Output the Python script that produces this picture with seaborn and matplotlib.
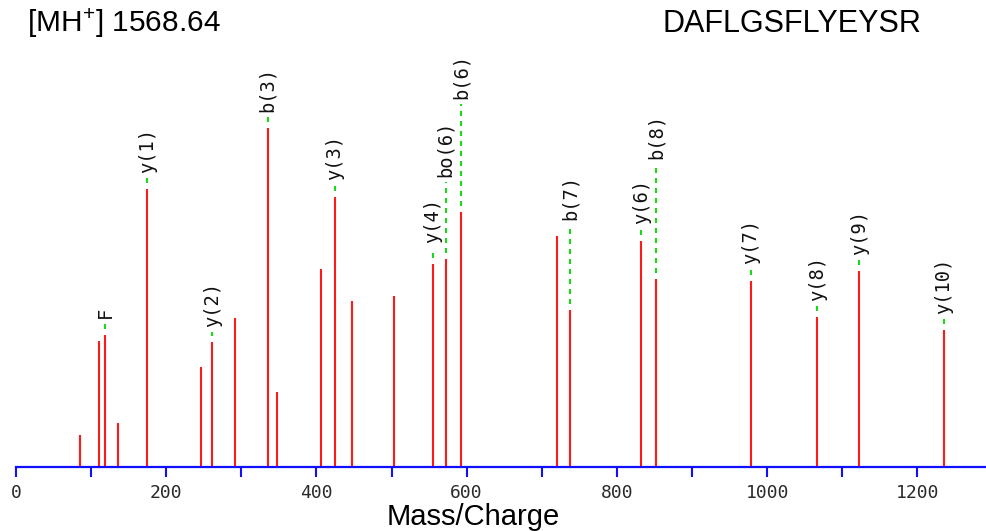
import matplotlib
matplotlib.use("Agg")
import matplotlib.pyplot as plt
import seaborn as sns
import numpy as np
import pandas as pd

# ---- data ----
mz = [85.2, 110.9, 118.5, 136.2, 174.8, 245.9, 261.4, 291.6, 335.1, 347.9,
      406.5, 424.7, 447.4, 503.3, 554.8, 572.1, 592.9, 719.9, 738.0, 832.5,
      852.5, 978.2, 1066.8, 1122.7, 1235.5]
intensity = [9.4, 37.3, 38.9, 12.9, 82.0, 29.4, 36.9, 44.1, 100.0, 22.0,
             58.3, 79.6, 49.1, 50.3, 60.0, 61.5, 75.1, 68.0, 46.4, 66.8,
             55.5, 55.0, 44.2, 57.7, 40.3]
ion_label = ["", "", "F", "", "y(1)", "", "y(2)", "", "b(3)", "",
             "", "y(3)", "", "", "y(4)", "bo(6)", "b(6)", "", "b(7)", "y(6)",
             "b(8)", "y(7)", "y(8)", "y(9)", "y(10)"]
label_level = [None, None, 43.9, None, 86.7, None, 41.4, None, 104.7, None,
               None, 84.7, None, None, 66.1, 85.5, 108.6, None, 72.9, 71.7,
               90.8, 59.9, 49.1, 62.5, 45.1]
x_ticks = list(range(0, 1300, 100))
x_ticklabels = [str(t) if t % 200 == 0 else "" for t in x_ticks]
precursor_text = "[MH$^{+}$] 1568.64"
peptide = "DAFLGSFLYEYSR"
x_title = "Mass/Charge"

df = pd.DataFrame({"mz": mz, "intensity": intensity,
                   "label": ion_label, "level": label_level})

# ---- style ----
sns.set_theme(style="white")
plt.rcParams["font.family"] = ["Liberation Sans", "DejaVu Sans"]
plt.rcParams["mathtext.fontset"] = "custom"
plt.rcParams["mathtext.rm"] = "Liberation Sans"
plt.rcParams["mathtext.default"] = "regular"
plt.rcParams["lines.scale_dashes"] = False

W, H = 987, 531
fig = plt.figure(figsize=(W / 100, H / 100), dpi=100)
ax = fig.add_axes([16 / W, (H - 467) / H, 1 - 16 / W, (467 - 40) / H])
px = 100 / 339.0  # intensity units per pixel

ax.vlines(df["mz"], 0, df["intensity"], color="#ff1a1a", linewidth=1.5, zorder=2)

for _, r in df.iterrows():
    if r["label"]:
        y0 = r["intensity"] + 6 * px
        y1 = r["level"] - 5 * px
        ax.plot([r["mz"], r["mz"]], [y0, y1], color="#19d919", linewidth=1.5,
                linestyle=(0, (3.6, 3.6)), solid_capstyle="butt",
                dash_capstyle="butt", zorder=2)
        ax.text(r["mz"], r["level"], r["label"], rotation=90, ha="center",
                va="bottom", fontsize=13.5, family="DejaVu Sans Mono",
                color="#111111")

ax.set_xlim(0, (W - 16) / 0.7511)
ax.set_ylim(0, 427 * px)
ax.set_xticks(x_ticks)
ax.set_xticklabels(x_ticklabels, family="DejaVu Sans Mono", fontsize=13,
                   color="#2a2a2a")
ax.set_yticks([])
ax.tick_params(axis="x", direction="out", length=7.5, width=1.5, color="#1010ff",
               pad=4.5, bottom=True)
for s in ["top", "right", "left"]:
    ax.spines[s].set_visible(False)
ax.spines["bottom"].set_color("#1010ff")
ax.spines["bottom"].set_linewidth(1.6)
ax.set_facecolor("white")
ax.grid(False)

fig.text(27 / W, 1 - 32 / H, precursor_text, fontsize=21.5, ha="left",
         va="baseline", color="black")
fig.text(663 / W, 1 - 32 / H, peptide, fontsize=22, ha="left",
         va="baseline", color="black")
fig.text(473 / W, 1 - 525 / H, x_title, fontsize=21, ha="center",
         va="baseline", color="black")

fig.savefig("out.png", dpi=100, facecolor="white")
